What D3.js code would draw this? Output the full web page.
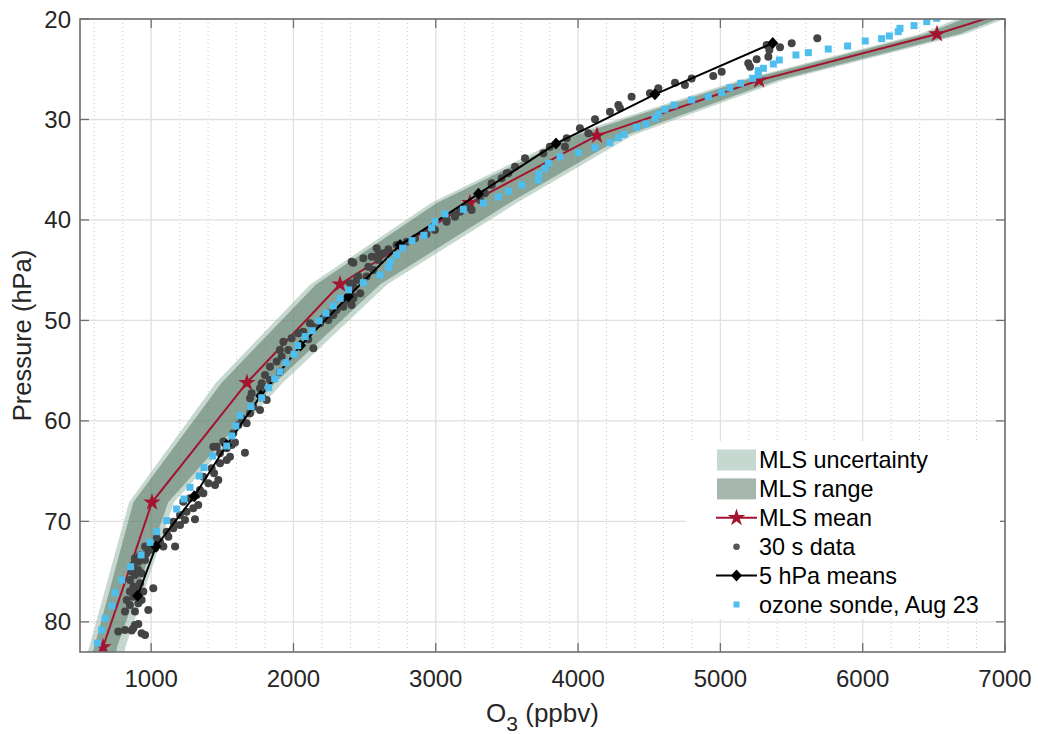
<!DOCTYPE html>
<html><head><meta charset="utf-8">
<script src="https://cdn.jsdelivr.net/npm/d3@7"></script>
<style>
body{margin:0;background:#fff;}
text{font-family:"Liberation Sans",Arial,Helvetica,sans-serif;}
</style></head>
<body><svg id="chart" width="1038" height="734"></svg>
<script>
// ---------- DATA ----------
const xTicks = [1000,2000,3000,4000,5000,6000,7000];
const yTicks = [20,30,40,50,60,70,80];
// MLS levels (hPa)
const mlsP      = [100, 82.5, 68.1, 56.2, 46.4, 38.3, 31.6, 26.1, 21.5, 17.8];
const mlsMean   = [380, 662, 1006, 1673, 2327, 3240, 4133, 5272, 6522, 7350];
const uncLow    = [150, 565, 845, 1455, 2120, 2970, 3930, 5130, 6400, 7050];
const uncHigh   = [610, 820, 1160, 1925, 2660, 3570, 4380, 5440, 6720, 7400];
const rangeLow  = [200, 600, 875, 1495, 2160, 3010, 3980, 5170, 6440, 7100];
const rangeHigh = [560, 760, 1120, 1870, 2610, 3520, 4330, 5400, 6680, 7350];
// 5 hPa means
const meanP  = [77.4, 72.5, 67.5, 62.4, 57.5, 52.5, 47.6, 42.5, 37.4, 32.4, 27.5, 22.4];
const meanO3 = [905, 1034, 1303, 1531, 1770, 2050, 2386, 2749, 3300, 3845, 4540, 5368];
// 30 s data
const dotP = [80.97,80.81,80.87,80.64,81.14,81.30,80.31,80.21,78.98,78.98,78.82,78.32,78.15,77.82,77.82,77.49,76.99,76.83,76.99,76.66,76.49,76.16,75.83,75.33,75.17,75.00,74.84,74.34,74.01,73.84,73.68,73.34,73.18,72.85,72.51,72.68,72.51,72.51,72.02,71.69,71.52,71.02,70.69,70.36,70.03,69.86,69.79,69.36,69.03,68.70,68.37,68.04,67.70,67.37,67.21,66.88,66.38,66.21,65.88,65.55,65.22,64.72,64.22,63.89,63.56,63.23,63.16,62.73,62.40,62.56,
 62.56,62.06,62.16,61.23,60.40,60.24,59.74,59.24,58.91,58.58,57.75,57.92,57.25,56.76,56.26,55.93,55.43,55.10,54.60,54.10,53.60,52.94,52.94,52.11,51.78,51.28,51.12,52.77,51.88,50.62,50.29,49.96,49.46,49.62,48.96,48.63,47.97,47.63,47.30,46.64,46.31,45.98,45.64,44.98,44.25,43.82,43.49,
 50.29,49.79,49.29,48.46,48.13,47.80,45.64,44.65,43.65,44.15,43.32,43.99,42.82,42.92,42.49,42.16,41.83,41.40,41.00,40.17,39.67,39.18,38.68,39.01,38.02,37.35,36.52,35.86,35.36,34.70,
 40.00,39.50,38.84,36.35,35.36,33.87,33.37,32.71,32.71,31.88,30.88,31.38,29.98,29.22,28.56,27.73,28.89,27.40,26.90,26.34,
 26.57,25.91,25.67,25.24,24.41,24.74,24.01,23.75,23.09,22.59,22.82,22.42,21.92];
const dotO3 = [769,816,863,875,933,957,886,910,816,886,980,851,910,828,933,875,851,898,945,1015,875,922,851,886,933,863,910,875,910,957,886,922,968,992,957,1027,1086,1168,1062,1039,1121,1109,1156,1203,1156,1238,1308,1203,1249,1296,1331,1226,1273,1320,1367,1343,1449,1402,1472,1367,1442,1425,1484,1531,1554,1484,1659,1531,1566,1460,
 1437,1507,1589,1577,1613,1671,1636,1695,1765,1718,1695,1812,1706,1765,1777,1835,1800,1905,1835,1882,1917,1905,1964,1929,1987,2034,2069,2140,2104,2140,2187,2245,2280,2233,2303,2350,2374,2421,2469,2421,2397,2444,2514,2561,2421,2491,2596,
 2116,2210,2257,2409,2397,2421,2456,2526,2550,2409,2631,2596,2585,2667,2725,2795,2854,2936,2994,3076,3135,3170,3217,3252,3311,3346,3393,3463,3510,3557,
 3076,3135,3194,3393,3498,3627,3756,3802,3908,3920,4013,4072,4119,4224,4283,4376,4294,4505,4564,4681,
 4751,4798,4950,5009,5196,5208,5255,5337,5344,5325,5419,5501,5681];
// ozone sonde, Aug 23
const sondeP = [82.13,80.81,79.65,78.42,77.10,75.83,74.51,73.34,72.08,71.02,69.93,68.77,67.77,66.61,65.48,64.65,63.49,62.50,61.50,60.50,59.48,58.58,57.69,56.69,55.80,55.10,54.20,53.37,52.51,51.61,51.02,50.03,49.29,48.55,47.80,46.97,46.24,45.48,44.71,44.15,43.49,42.80,42.06,41.53,40.77,40.17,39.41,38.94,38.32,37.69,37.15,36.52,36.02,35.43,34.86,34.36,33.70,33.30,32.81,32.31,31.81,31.48,30.78,30.45,29.88,29.45,28.99,28.56,28.06,27.73,27.33,26.84,26.40,25.90,25.57,25.14,24.91,24.48,24.08,23.58,23.35,22.99,22.69,22.19,21.96,21.69,21.26,20.93,20.66,20.26,19.93];
const sondeO3 = [622,652,676,723,746,793,856,929,992,1039,1109,1179,1231,1273,1338,1371,1432,1531,1566,1595,1624,1702,1777,1826,1868,1905,1948,2004,2030,2083,2132,2180,2229,2280,2328,2387,2491,2608,2667,2683,2725,2767,2833,2917,2971,2995,3065,3194,3334,3439,3510,3604,3721,3725,3768,3791,3873,4002,4119,4224,4283,4323,4412,4477,4540,4564,4611,4674,4798,4915,5009,5067,5142,5227,5266,5266,5302,5372,5414,5531,5618,5758,5894,6018,6133,6187,6250,6262,6361,6450,6520];
const legendLabels = ["MLS uncertainty","MLS range","MLS mean","30 s data","5 hPa means","ozone sonde, Aug 23"];

// ---------- STYLE ----------
const C = {unc:"rgb(142,178,160)", rng:"rgb(80,110,90)", red:"#a2142f", dot:"#444444", blue:"#4dbeee", axis:"#6e6e6e", text:"#262626"};
const L=80, R=1005, T=19, B=652;
const x = d3.scaleLinear().domain([500,7000]).range([L,R]);
const y = d3.scaleLinear().domain([20,83]).range([T,B]);
const svg = d3.select("#chart");

svg.append("defs").append("clipPath").attr("id","clip")
  .append("rect").attr("x",L).attr("y",T).attr("width",R-L).attr("height",B-T);

// grid
const grid = svg.append("g");
grid.selectAll(".minor").data(d3.range(600,7000,200).filter(v=>v%1000!==0)).enter()
  .append("line").attr("x1",d=>x(d)).attr("x2",d=>x(d)).attr("y1",T).attr("y2",B)
  .attr("stroke","#c8c8c8").attr("stroke-width",1).attr("stroke-dasharray","1,3");
grid.selectAll(".vx").data(xTicks).enter().append("line")
  .attr("x1",d=>x(d)).attr("x2",d=>x(d)).attr("y1",T).attr("y2",B)
  .attr("stroke","#e0e0e0").attr("stroke-width",1.3);
grid.selectAll(".hy").data(yTicks).enter().append("line")
  .attr("y1",d=>y(d)).attr("y2",d=>y(d)).attr("x1",L).attr("x2",R)
  .attr("stroke","#e0e0e0").attr("stroke-width",1.3);

const plot = svg.append("g").attr("clip-path","url(#clip)");
const idx = d3.range(mlsP.length);
const area = (lo,hi)=>d3.area().x0(i=>x(lo[i])).x1(i=>x(hi[i])).y(i=>y(mlsP[i]));
plot.append("path").datum(idx).attr("d",area(uncLow,uncHigh)).attr("fill",C.unc).attr("fill-opacity",0.5);
plot.append("path").datum(idx).attr("d",area(rangeLow,rangeHigh)).attr("fill",C.rng).attr("fill-opacity",0.5);

const line = d3.line().x(d=>x(d[0])).y(d=>y(d[1]));
const meanPts = mlsMean.map((v,i)=>[v,mlsP[i]]);
plot.append("path").datum(meanPts).attr("d",line).attr("fill","none").attr("stroke",C.red).attr("stroke-width",2);
const star = d3.symbol().type(d3.symbolStar).size(95)();
plot.selectAll(".star").data(meanPts).enter().append("path").attr("d",star)
  .attr("transform",d=>`translate(${x(d[0])},${y(d[1])})`).attr("fill",C.red);

plot.selectAll(".dot").data(dotO3.map((v,i)=>[v,dotP[i]])).enter().append("circle")
  .attr("cx",d=>x(d[0])).attr("cy",d=>y(d[1])).attr("r",4).attr("fill",C.dot);

const mPts = meanO3.map((v,i)=>[v,meanP[i]]);
plot.append("path").datum(mPts).attr("d",line).attr("fill","none").attr("stroke","#000").attr("stroke-width",2);
const diamond = "M0,-6L5.5,0L0,6L-5.5,0Z";
plot.selectAll(".dia").data(mPts).enter().append("path").attr("d",diamond)
  .attr("transform",d=>`translate(${x(d[0])},${y(d[1])})`).attr("fill","#000");

plot.selectAll(".sq").data(sondeO3.map((v,i)=>[v,sondeP[i]])).enter().append("rect")
  .attr("x",d=>x(d[0])-3.5).attr("y",d=>y(d[1])-3.5).attr("width",7).attr("height",7).attr("fill",C.blue);

// axes box and ticks
const ax = svg.append("g");
const tl = 9;
ax.selectAll(".tb").data(xTicks).enter().append("line")
  .attr("x1",d=>x(d)).attr("x2",d=>x(d)).attr("y1",B).attr("y2",B-tl).attr("stroke",C.axis).attr("stroke-width",1.3);
ax.selectAll(".tt").data(xTicks).enter().append("line")
  .attr("x1",d=>x(d)).attr("x2",d=>x(d)).attr("y1",T).attr("y2",T+tl).attr("stroke",C.axis).attr("stroke-width",1.3);
ax.selectAll(".tlft").data(yTicks).enter().append("line")
  .attr("y1",d=>y(d)).attr("y2",d=>y(d)).attr("x1",L).attr("x2",L+tl).attr("stroke",C.axis).attr("stroke-width",1.3);
ax.selectAll(".trt").data(yTicks).enter().append("line")
  .attr("y1",d=>y(d)).attr("y2",d=>y(d)).attr("x1",R).attr("x2",R-tl).attr("stroke",C.axis).attr("stroke-width",1.3);
ax.append("rect").attr("x",L).attr("y",T).attr("width",R-L).attr("height",B-T)
  .attr("fill","none").attr("stroke",C.axis).attr("stroke-width",1.6);

ax.selectAll(".xl").data(xTicks).enter().append("text")
  .attr("x",d=>x(d)).attr("y",687).attr("text-anchor","middle").attr("font-size",24).attr("fill",C.text).text(d=>d);
ax.selectAll(".yl").data(yTicks).enter().append("text")
  .attr("x",71).attr("y",d=>y(d)+8.5).attr("text-anchor","end").attr("font-size",24).attr("fill",C.text).text(d=>d);

const xt = ax.append("text").attr("x",(L+R)/2).attr("y",722).attr("text-anchor","middle").attr("font-size",26).attr("fill",C.text);
xt.append("tspan").text("O");
xt.append("tspan").attr("font-size",21).attr("dy",9).text("3");
xt.append("tspan").attr("dy",-9).text(" (ppbv)");
ax.append("text").attr("transform",`translate(31,${(T+B)/2}) rotate(-90)`).attr("text-anchor","middle")
  .attr("font-size",25.5).attr("fill",C.text).text("Pressure (hPa)");

// legend
const lg = svg.append("g");
lg.append("rect").attr("x",686).attr("y",441).attr("width",314).attr("height",178).attr("fill","#fff");
const rowY = i=>460+i*28.9;
lg.selectAll(".lt").data(legendLabels).enter().append("text")
  .attr("x",759).attr("y",(d,i)=>rowY(i)+8.3).attr("font-size",23.4).attr("fill","#000").text(d=>d);
lg.append("rect").attr("x",717).attr("y",rowY(0)-10.5).attr("width",39).attr("height",21).attr("fill",C.unc).attr("fill-opacity",0.5);
lg.append("rect").attr("x",717).attr("y",rowY(1)-10.5).attr("width",39).attr("height",21).attr("fill",C.rng).attr("fill-opacity",0.5);
lg.append("line").attr("x1",716).attr("x2",757).attr("y1",rowY(2)).attr("y2",rowY(2)).attr("stroke",C.red).attr("stroke-width",2);
lg.append("path").attr("d",star).attr("transform",`translate(736.5,${rowY(2)})`).attr("fill",C.red);
lg.append("circle").attr("cx",736.5).attr("cy",rowY(3)).attr("r",3.3).attr("fill","#555");
lg.append("line").attr("x1",716).attr("x2",757).attr("y1",rowY(4)).attr("y2",rowY(4)).attr("stroke","#000").attr("stroke-width",2);
lg.append("path").attr("d",diamond).attr("transform",`translate(736.5,${rowY(4)})`).attr("fill","#000");
lg.append("rect").attr("x",733.5).attr("y",rowY(5)-3).attr("width",6).attr("height",6).attr("fill",C.blue);
</script></body></html>
